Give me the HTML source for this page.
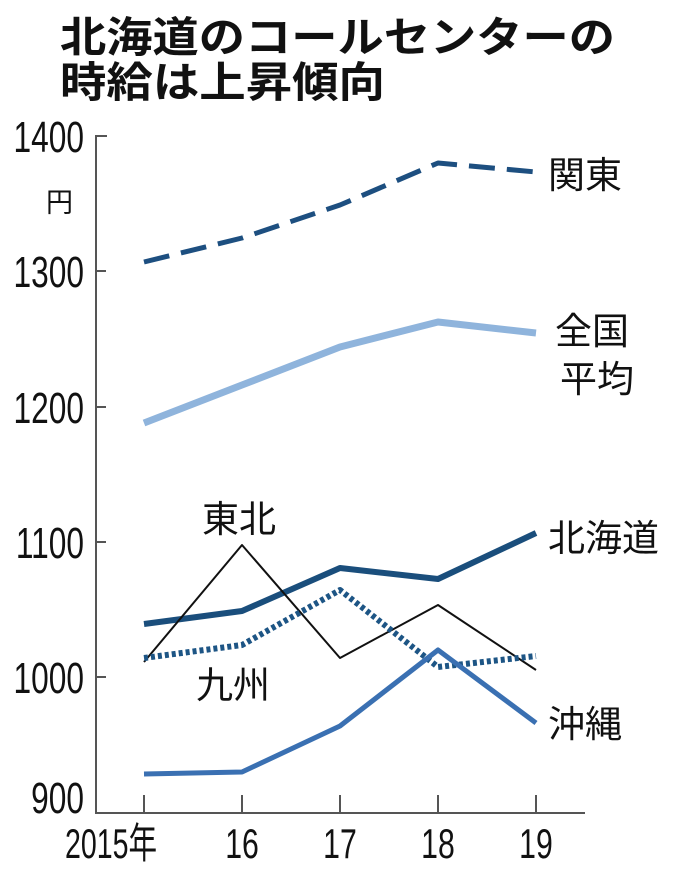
<!DOCTYPE html><html><head><meta charset="utf-8"><style>body{margin:0;background:#fff}svg{display:block}text{font-family:"Liberation Sans","Noto Sans CJK JP",sans-serif}</style></head><body>
<svg width="680" height="877" viewBox="0 0 680 877">
<text x="60" y="52" font-size="42" font-weight="bold" fill="#111" textLength="555" lengthAdjust="spacingAndGlyphs">北海道のコールセンターの</text>
<text x="60" y="97" font-size="42" font-weight="bold" fill="#111" textLength="325" lengthAdjust="spacingAndGlyphs">時給は上昇傾向</text>
<g fill="#111" font-size="44" text-anchor="end">
<text x="84" y="152" transform="translate(84 0) scale(0.72 1) translate(-84 0)">1400</text>
<text x="84" y="287" transform="translate(84 0) scale(0.72 1) translate(-84 0)">1300</text>
<text x="84" y="423" transform="translate(84 0) scale(0.72 1) translate(-84 0)">1200</text>
<text x="84" y="558" transform="translate(84 0) scale(0.72 1) translate(-84 0)">1100</text>
<text x="84" y="693" transform="translate(84 0) scale(0.72 1) translate(-84 0)">1000</text>
<text x="84" y="813" transform="translate(84 0) scale(0.72 1) translate(-84 0)">900</text>
</g>
<text x="46" y="212" font-size="27" fill="#111">円</text>
<g stroke="#555" stroke-width="2" fill="none">
<path d="M107 136H96V813H585"/>
<path d="M96 271h10M96 407h10M96 542h10M96 677h10"/>
<path d="M144 795v18M242 795v18M340 795v18M438 795v18M536 795v18"/>
</g>
<g fill="#111" font-size="42" text-anchor="middle">
<text x="111" y="858" transform="translate(111 0) scale(0.68 1) translate(-111 0)">2015年</text>
<text x="242" y="858" transform="translate(242 0) scale(0.72 1) translate(-242 0)">16</text>
<text x="340" y="858" transform="translate(340 0) scale(0.72 1) translate(-340 0)">17</text>
<text x="438" y="858" transform="translate(438 0) scale(0.72 1) translate(-438 0)">18</text>
<text x="536" y="858" transform="translate(536 0) scale(0.72 1) translate(-536 0)">19</text>
</g>
<g fill="none" stroke-linejoin="round">
<polyline points="144,262 242,238 340,205 438,163 536,172" stroke="#1d4f80" stroke-width="5" stroke-dasharray="26,12"/>
<polyline points="144,423 242,385 340,347 438,322 536,333" stroke="#8fb4dc" stroke-width="7"/>
<polyline points="144,624 242,611 340,568 438,579 536,533" stroke="#1a4e7c" stroke-width="6"/>
<polyline points="144,662 242,545 340,658 438,605 536,670" stroke="#111" stroke-width="2"/>
<polyline points="144,658 242,645 340,590 438,667 536,656" stroke="#1d5585" stroke-width="6" stroke-dasharray="4,3"/>
<polyline points="144,774 242,772 340,726 438,650 536,723" stroke="#3a70b2" stroke-width="5"/>
</g>
<g fill="#111" font-size="37">
<text x="548" y="188">関東</text>
<text x="555" y="344">全国</text>
<text x="560" y="392">平均</text>
<text x="548" y="551">北海道</text>
<text x="202" y="532">東北</text>
<text x="196" y="698">九州</text>
<text x="548" y="737">沖縄</text>
</g>
</svg></body></html>
